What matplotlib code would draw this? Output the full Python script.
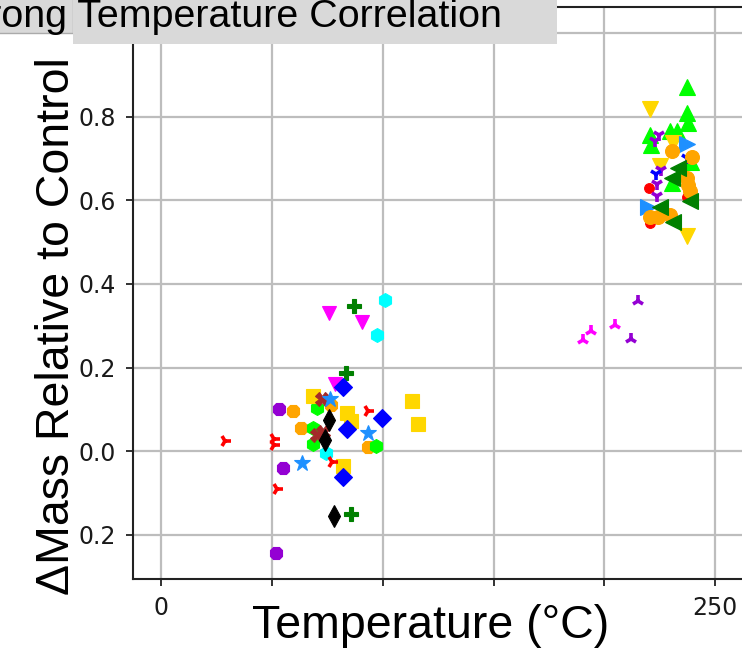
import matplotlib
matplotlib.use('Agg')
import matplotlib.pyplot as plt
from matplotlib.patches import Rectangle
from matplotlib.ticker import FixedLocator, FixedFormatter

# ---------------- data ----------------
title_text = "Strong Temperature Correlation"
x_label = "Temperature (°C)"
y_label = "ΔMass Relative to Control"

x_ticks = [0, 50, 100, 150, 200, 250]
x_tick_labels = ["0", "", "", "", "", "250"]
y_ticks = [-0.2, 0.0, 0.2, 0.4, 0.6, 0.8, 1.0]
y_tick_labels = ["0.2", "0.0", "0.2", "0.4", "0.6", "0.8", ""]

# low-temperature cluster
purple_oct_x = [53.2, 55.0, 51.9]
purple_oct_y = [0.101, -0.040, -0.243]
orange_oct_x = [59.5, 63.1, 76.7, 93.4]
orange_oct_y = [0.096, 0.056, 0.110, 0.010]
lime_hex_x = [70.3, 68.5, 68.5, 97.0]
lime_hex_y = [0.103, 0.056, 0.017, 0.012]
cyan_hex_x = [101.0, 97.4, 74.4]
cyan_hex_y = [0.361, 0.278, -0.004]
magenta_v_x = [75.8, 90.7, 78.5]
magenta_v_y = [0.330, 0.309, 0.161]
dkgreen_plus_x = [87.0, 83.4, 85.7]
dkgreen_plus_y = [0.347, 0.187, -0.150]
gold_sq_x = [68.5, 83.9, 85.7, 113.2, 115.9, 82.1]
gold_sq_y = [0.132, 0.091, 0.072, 0.120, 0.065, -0.035]
blue_dia_x = [82.1, 99.7, 83.9, 82.1]
blue_dia_y = [0.153, 0.080, 0.053, -0.062]
brown_x_x = [72.6, 70.3, 73.0]
brown_x_y = [0.125, 0.039, 0.046]
dodger_star_x = [76.2, 93.4, 63.6]
dodger_star_y = [0.125, 0.043, -0.028]
black_thin_x = [75.8, 73.9, 78.0]
black_thin_y = [0.075, 0.027, -0.155]
red_tri_x = [93.4, 28.8, 50.9, 50.9, 77.1, 52.3]
red_tri_y = [0.096, 0.024, 0.029, 0.015, -0.026, -0.090]

# mid cluster
violet_up_x = [215.3, 212.1]
violet_up_y = [0.358, 0.268]
magenta_up_x = [204.8, 194.0, 190.4]
magenta_up_y = [0.301, 0.287, 0.265]

# high-temperature cluster
red_dot_x = [220.2, 237.4, 220.6]
red_dot_y = [0.629, 0.608, 0.545]
lime_tri_x = [237.4, 237.4, 237.8, 229.6, 232.8, 220.6, 221.1, 239.1, 230.5]
lime_tri_y = [0.871, 0.808, 0.784, 0.765, 0.765, 0.756, 0.732, 0.691, 0.641]
gold_v_x = [220.6, 231.0, 225.1, 237.4]
gold_v_y = [0.818, 0.737, 0.681, 0.514]
violet_down_x = [224.7, 222.9, 225.6, 223.8, 223.8]
violet_down_y = [0.755, 0.741, 0.672, 0.639, 0.610]
blue_down_x = [237.4, 223.4]
blue_down_y = [0.701, 0.663]
dodger_right_x = [237.4, 219.7]
dodger_right_y = [0.734, 0.584]
orange_dot_x = [230.5, 239.6, 237.4, 237.8, 238.7, 220.6, 224.2, 229.6]
orange_dot_y = [0.718, 0.703, 0.653, 0.636, 0.622, 0.560, 0.560, 0.565]
dkgreen_left_x = [233.3, 230.5, 238.7, 225.1, 231.0]
dkgreen_left_y = [0.677, 0.653, 0.598, 0.584, 0.548]

# ---------------- styles ----------------
series = [
    (purple_oct_x, purple_oct_y, '8', '#9400d3', 10),
    (orange_oct_x, orange_oct_y, '8', '#ffa500', 10),
    (lime_hex_x, lime_hex_y, 'h', '#00ff00', 10),
    (cyan_hex_x, cyan_hex_y, 'h', '#00ffff', 10),
    (magenta_v_x, magenta_v_y, 'v', '#ff00ff', 10),
    (dkgreen_plus_x, dkgreen_plus_y, 'P', '#008000', 10),
    (gold_sq_x, gold_sq_y, 's', '#ffd700', 10),
    (blue_dia_x, blue_dia_y, 'D', '#0000ff', 9),
    (brown_x_x, brown_x_y, 'X', '#a52a2a', 10),
    (dodger_star_x, dodger_star_y, '*', '#1e90ff', 12),
    (black_thin_x, black_thin_y, 'd', '#000000', 11),
    (red_tri_x, red_tri_y, '4', '#ff0000', 9),
    (violet_up_x, violet_up_y, '2', '#9400d3', 9),
    (magenta_up_x, magenta_up_y, '2', '#ff00ff', 9),
    (red_dot_x, red_dot_y, 'o', '#ff0000', 7),
    (lime_tri_x, lime_tri_y, '^', '#00ff00', 11),
    (gold_v_x, gold_v_y, 'v', '#ffd700', 11),
    (violet_down_x, violet_down_y, '1', '#9400d3', 9),
    (blue_down_x, blue_down_y, '1', '#0000ff', 9),
    (dodger_right_x, dodger_right_y, '>', '#1e90ff', 11),
    (orange_dot_x, orange_dot_y, 'o', '#ffa500', 10),
    (dkgreen_left_x, dkgreen_left_y, '<', '#008000', 11),
]

W, H = 742, 650
fig = plt.figure(figsize=(W / 100, H / 100), dpi=100)
ax = fig.add_axes([133 / W, 71 / H, 648.6 / W, 572.5 / H])
ax.set_xlim(-12.68, 280)
ax.set_ylim(-0.3055, 1.063)

ax.grid(True, color='#bdbdbd', linewidth=1.6, zorder=0)
ax.set_axisbelow(True)

for xs, ys, mk, col, ms in series:
    if mk in ('1', '2', '3', '4'):
        ax.plot(xs, ys, linestyle='none', marker=mk, color=col, ms=ms, mew=2.6)
    else:
        ax.plot(xs, ys, linestyle='none', marker=mk, color=col, ms=ms,
                mec=col, mew=0.8)

ax.xaxis.set_major_locator(FixedLocator(x_ticks))
ax.xaxis.set_major_formatter(FixedFormatter(x_tick_labels))
ax.yaxis.set_major_locator(FixedLocator(y_ticks))
ax.yaxis.set_major_formatter(FixedFormatter(y_tick_labels))
ax.tick_params(axis='both', labelsize=17, length=5, width=1.3, pad=7,
               colors='#222222', labelcolor='#1a1a1a')
for sp in ax.spines.values():
    sp.set_linewidth(1.5)
    sp.set_color('#222222')

# axis labels
fig.text(431 / W, 1 - 638 / H, x_label, family='Liberation Sans', fontsize=33.5,
         ha='center', va='baseline')
fig.text(57 / W, 1 - 326 / H, y_label, family='Liberation Sans', fontsize=33.5,
         ha='center', va='center', rotation=90)

# title with grey boxes
fig.add_artist(Rectangle((-0.05, 1 - 33 / H), 0.05 + 73 / W, 0.2,
                         transform=fig.transFigure, facecolor='#d9d9d9',
                         edgecolor='#aaaaaa', linewidth=1.0, zorder=5))
fig.add_artist(Rectangle((73 / W, 1 - 44 / H), (557 - 73) / W, 0.2,
                         transform=fig.transFigure, facecolor='#d9d9d9',
                         edgecolor='none', zorder=5.5))
fig.text(226 / W, 1 - 27 / H, title_text, family='Liberation Sans', fontsize=28.4,
         ha='center', va='baseline', zorder=6)

fig.savefig('out.png', dpi=100)
